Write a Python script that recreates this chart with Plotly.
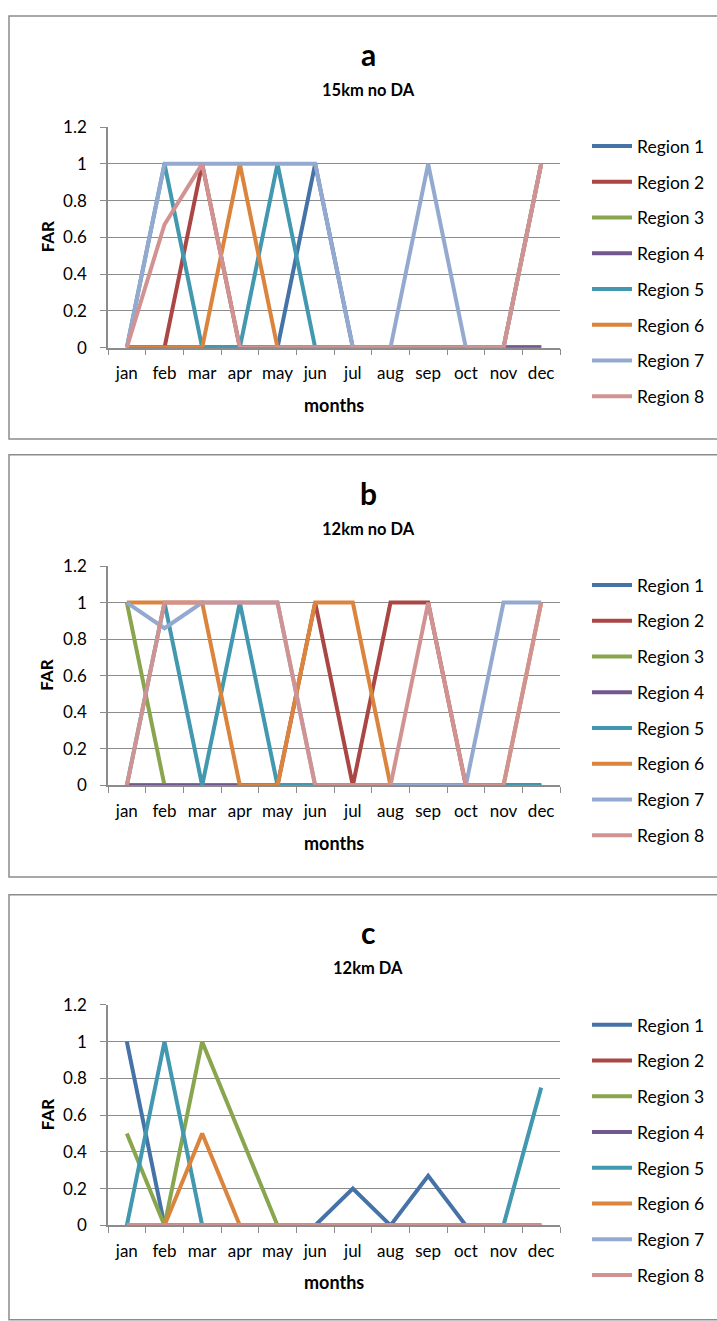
import plotly.graph_objects as go

W, H = 717, 1321

months = ["jan", "feb", "mar", "apr", "may", "jun", "jul", "aug", "sep", "oct", "nov", "dec"]
regions = ["Region 1", "Region 2", "Region 3", "Region 4",
           "Region 5", "Region 6", "Region 7", "Region 8"]
colors = ["#4572A7", "#AA4643", "#89A54E", "#71588F",
          "#4198AF", "#DB843D", "#93A9CF", "#D19392"]

panel_letters = ["a", "b", "c"]
panel_subtitles = ["15km no DA", "12km no DA", "12km DA"]
y_ticks = [0, 0.2, 0.4, 0.6, 0.8, 1, 1.2]
y_tick_text = ["0", "0.2", "0.4", "0.6", "0.8", "1", "1.2"]

# Panel a: 15km no DA
far_a_r1 = [0, 0, 0, 0, 0, 1, 0, 0, 0, 0, 0, 0]
far_a_r2 = [0, 0, 1, 0, 0, 0, 0, 0, 0, 0, 0, 0]
far_a_r3 = [0, 0, 0, 0, 0, 0, 0, 0, 0, 0, 0, 0]
far_a_r4 = [0, 0, 0, 0, 0, 0, 0, 0, 0, 0, 0, 0]
far_a_r5 = [0, 1, 0, 0, 1, 0, 0, 0, 0, 0, 0, 1]
far_a_r6 = [0, 0, 0, 1, 0, 0, 0, 0, 0, 0, 0, 1]
far_a_r7 = [0, 1, 1, 1, 1, 1, 0, 0, 1, 0, 0, 1]
far_a_r8 = [0, 0.67, 1, 0, 0, 0, 0, 0, 0, 0, 0, 1]

# Panel b: 12km no DA
far_b_r1 = [0, 0, 0, 0, 0, 0, 0, 0, 0, 0, 0, 0]
far_b_r2 = [0, 0, 0, 0, 0, 1, 0, 1, 1, 0, 0, 0]
far_b_r3 = [1, 0, 0, 0, 0, 0, 0, 0, 0, 0, 0, 0]
far_b_r4 = [0, 0, 0, 0, 0, 0, 0, 0, 0, 0, 0, 0]
far_b_r5 = [0, 1, 0, 1, 0, 0, 0, 0, 0, 0, 0, 0]
far_b_r6 = [1, 1, 1, 0, 0, 1, 1, 0, 0, 0, 0, 1]
far_b_r7 = [1, 0.86, 1, 1, 1, 0, 0, 0, 0, 0, 1, 1]
far_b_r8 = [0, 1, 1, 1, 1, 0, 0, 0, 1, 0, 0, 1]

# Panel c: 12km DA
far_c_r1 = [1, 0, 0, 0, 0, 0, 0.2, 0, 0.27, 0, 0, 0]
far_c_r2 = [0, 0, 0, 0, 0, 0, 0, 0, 0, 0, 0, 0]
far_c_r3 = [0.5, 0, 1, 0.5, 0, 0, 0, 0, 0, 0, 0, 0]
far_c_r4 = [0, 0, 0, 0, 0, 0, 0, 0, 0, 0, 0, 0]
far_c_r5 = [0, 1, 0, 0, 0, 0, 0, 0, 0, 0, 0, 0.75]
far_c_r6 = [0, 0, 0.5, 0, 0, 0, 0, 0, 0, 0, 0, 0]
far_c_r7 = [0, 0, 0, 0, 0, 0, 0, 0, 0, 0, 0, 0]
far_c_r8 = [0, 0, 0, 0, 0, 0, 0, 0, 0, 0, 0, 0]

panels = [
    [far_a_r1, far_a_r2, far_a_r3, far_a_r4, far_a_r5, far_a_r6, far_a_r7, far_a_r8],
    [far_b_r1, far_b_r2, far_b_r3, far_b_r4, far_b_r5, far_b_r6, far_b_r7, far_b_r8],
    [far_c_r1, far_c_r2, far_c_r3, far_c_r4, far_c_r5, far_c_r6, far_c_r7, far_c_r8],
]

FONT = "Lato"
GRAY = "#8C8C8C"


def px_x(p):
    return p / W


def px_y(p):
    return 1 - p / H


# layout geometry (pixels)
plot_left, plot_right = 108, 560
plot_tops = [118, 564, 1010]
plot_bottoms = [342, 787, 1234]
box_tops = [5, 451, 898]
box_bottoms = [435, 880, 1330]
title_y = [44, 490, 936]
sub_y = [80, 526, 972]
legend_top = [119, 565, 1012]

fig = go.Figure()
layout = dict(
    width=W, height=H,
    margin=dict(l=0, r=0, t=0, b=0),
    paper_bgcolor="white", plot_bgcolor="white",
    font=dict(family=FONT, size=17, color="#000000"),
    showlegend=True,
)
shapes = []
annotations = []

for p in range(3):
    xa = "x" if p == 0 else f"x{p+1}"
    ya = "y" if p == 0 else f"y{p+1}"
    lg = "legend" if p == 0 else f"legend{p+1}"
    for i, vals in enumerate(panels[p]):
        fig.add_trace(go.Scatter(
            x=months, y=vals, mode="lines", name=regions[i],
            line=dict(color=colors[i], width=4),
            xaxis=xa, yaxis=ya, legend=lg, legendgroup=f"{p}_{i}",
            hoverinfo="skip",
        ))
    xkey = "xaxis" if p == 0 else f"xaxis{p+1}"
    ykey = "yaxis" if p == 0 else f"yaxis{p+1}"
    layout[xkey] = dict(
        domain=[px_x(plot_left), px_x(plot_right)],
        anchor=ya, type="category", categoryorder="array", categoryarray=months,
        range=[-0.5, 11.5], showgrid=False, zeroline=False,
        showline=True, linecolor=GRAY, linewidth=1.5,
        ticks="outside", tickson="boundaries", ticklen=6, tickcolor=GRAY, tickwidth=1,
        tickangle=0,
        tickfont=dict(family=FONT, size=17, color="#000000"),
        ticklabelstandoff=9, fixedrange=True,
    )
    layout[ykey] = dict(
        domain=[px_y(plot_bottoms[p]), px_y(plot_tops[p])],
        anchor=xa, range=[0, 1.2], tickvals=y_ticks, ticktext=y_tick_text,
        showgrid=True, gridcolor=GRAY, gridwidth=1, zeroline=False,
        showline=True, linecolor=GRAY, linewidth=1.5,
        ticks="outside", ticklen=6, tickcolor=GRAY, tickwidth=1,
        tickfont=dict(family=FONT, size=17, color="#000000"),
        ticklabelstandoff=10, fixedrange=True,
    )
    layout[lg] = dict(
        x=px_x(587), y=px_y(legend_top[p]), xanchor="left", yanchor="top",
        font=dict(family=FONT, size=17.5, color="#000000"),
        tracegroupgap=10, bgcolor="rgba(0,0,0,0)", itemwidth=40,
    )
    shapes.append(dict(
        type="rect", xref="paper", yref="paper",
        x0=px_x(9), x1=px_x(730), y0=px_y(box_bottoms[p]), y1=px_y(box_tops[p]),
        line=dict(color=GRAY, width=1.5), fillcolor="rgba(0,0,0,0)", layer="below",
    ))
    annotations.append(dict(
        text=f"<b>{panel_letters[p]}</b>", x=px_x(368), y=px_y(title_y[p]),
        xref="paper", yref="paper", showarrow=False, xanchor="center", yanchor="middle",
        font=dict(family=FONT, size=30, color="#000000"),
    ))
    annotations.append(dict(
        text=f"<b>{panel_subtitles[p]}</b>", x=px_x(368), y=px_y(sub_y[p]),
        xref="paper", yref="paper", showarrow=False, xanchor="center", yanchor="middle",
        font=dict(family=FONT, size=16.5, color="#000000"),
    ))
    annotations.append(dict(
        text="<b>months</b>", x=px_x((plot_left + plot_right) / 2),
        y=px_y(plot_bottoms[p] + 58),
        xref="paper", yref="paper", showarrow=False, xanchor="center", yanchor="middle",
        font=dict(family=FONT, size=18, color="#000000"),
    ))
    annotations.append(dict(
        text="<b>FAR</b>", x=px_x(47), y=px_y((plot_tops[p] + plot_bottoms[p]) / 2),
        xref="paper", yref="paper", showarrow=False, xanchor="center", yanchor="middle",
        textangle=-90, font=dict(family=FONT, size=17, color="#000000"),
    ))

layout["shapes"] = shapes
layout["annotations"] = annotations
fig.update_layout(**layout)

fig.write_html("out.html")
